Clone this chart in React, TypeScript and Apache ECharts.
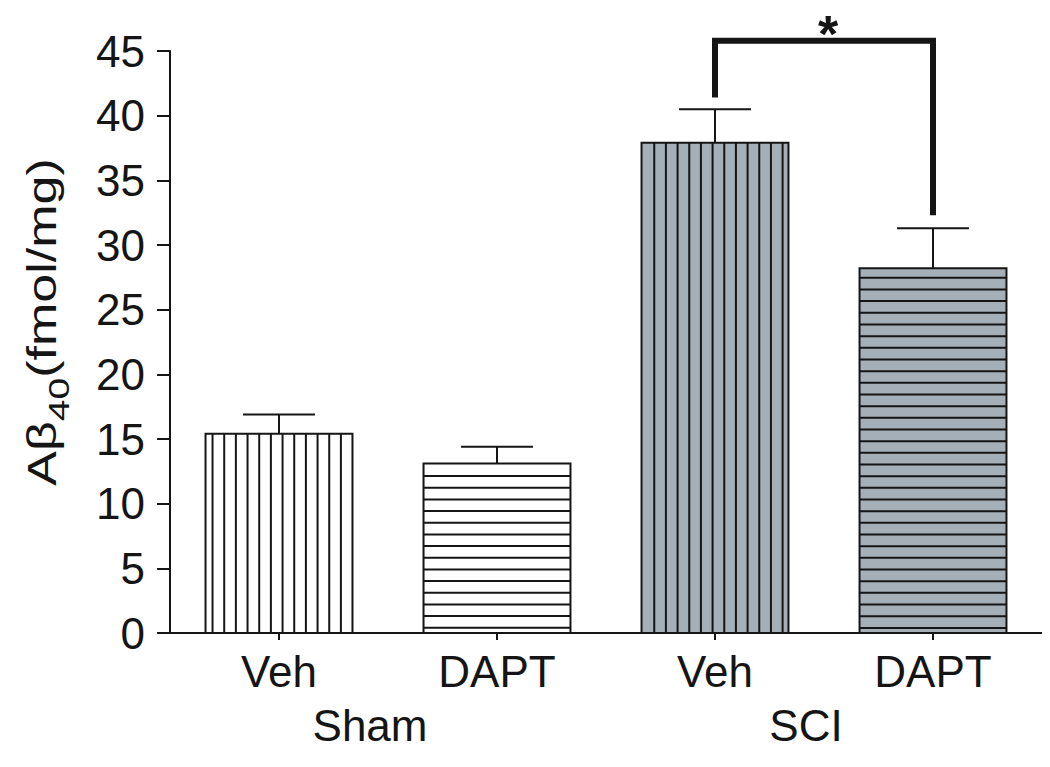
import React, { useEffect, useRef } from 'react';
import * as echarts from 'echarts';

// ---- data ----
const groupLabels = ['Sham', 'SCI'];
const treatmentLabels = ['Veh', 'DAPT', 'Veh', 'DAPT'];
const meanValues = [15.4, 13.1, 37.9, 28.2];
const errorTops = [16.9, 14.4, 40.5, 31.3];
const yMin = 0;
const yMax = 45;
const yStep = 5;
const bracketPair = [2, 3];
const bracketLevel = 45.8;
const bracketLegEnds = [41.4, 32.3];
const significanceMark = '*';

// ---- styles ----
const FONT = 'Liberation Sans, Arial, Helvetica, sans-serif';
const INK = '#151515';
const barFills = ['#ffffff', '#ffffff', '#a4afb8', '#a4afb8'];
const barStripes = ['vertical', 'horizontal', 'vertical', 'horizontal'];
const stripeOffsets = [7, 12.5, 12.7, 9.5];
const STRIPE = 11.67;

function renderBar(params: any, api: any) {
  const i = params.dataIndex;
  const cat = api.value(0);
  const base = api.coord([cat, 0]);
  const top = api.coord([cat, api.value(1)]);
  const bw = api.size([1, 0])[0] * 0.674;
  const x0 = base[0] - bw / 2;
  const x1 = base[0] + bw / 2;
  const y0 = top[1];
  const y1 = base[1];
  const children: any[] = [
    { type: 'rect', shape: { x: x0, y: y0, width: bw, height: y1 - y0 }, style: { fill: barFills[i], stroke: null } },
  ];
  if (barStripes[i] === 'vertical') {
    for (let x = x0 + stripeOffsets[i]; x < x1 - 3; x += STRIPE) {
      children.push({ type: 'line', shape: { x1: x, y1: y0, x2: x, y2: y1 }, style: { stroke: INK, lineWidth: 2 } });
    }
  } else {
    for (let y = y0 + stripeOffsets[i]; y < y1 - 3; y += STRIPE) {
      children.push({ type: 'line', shape: { x1: x0, y1: y, x2: x1, y2: y }, style: { stroke: INK, lineWidth: 2 } });
    }
  }
  children.push({
    type: 'rect',
    shape: { x: x0, y: y0, width: bw, height: y1 - y0 },
    style: { fill: 'none', stroke: INK, lineWidth: 2 },
  });
  return { type: 'group', children };
}

function renderError(params: any, api: any) {
  const cat = api.value(0);
  const p0 = api.coord([cat, api.value(1)]);
  const p1 = api.coord([cat, api.value(2)]);
  const half = api.size([1, 0])[0] * 0.165;
  return {
    type: 'group',
    children: [
      { type: 'line', shape: { x1: p0[0], y1: p0[1], x2: p1[0], y2: p1[1] }, style: { stroke: INK, lineWidth: 2 } },
      { type: 'line', shape: { x1: p1[0] - half, y1: p1[1], x2: p1[0] + half, y2: p1[1] }, style: { stroke: INK, lineWidth: 2 } },
    ],
  };
}

function renderBracket(params: any, api: any) {
  const l = api.coord([bracketPair[0], bracketLegEnds[0]]);
  const r = api.coord([bracketPair[1], bracketLegEnds[1]]);
  const t = api.coord([bracketPair[0], bracketLevel]);
  return {
    type: 'group',
    children: [
      {
        type: 'polyline',
        shape: { points: [[l[0], l[1]], [l[0], t[1]], [r[0], t[1]], [r[0], r[1]]] },
        style: { stroke: INK, lineWidth: 6, fill: 'none', lineJoin: 'miter' },
      },
      {
        type: 'text',
        x: (l[0] + r[0]) / 2 + 4,
        y: t[1] - 7,
        style: {
          text: significanceMark,
          fontSize: 52,
          fontWeight: 'bold',
          fontFamily: FONT,
          fill: INK,
          align: 'center',
          verticalAlign: 'middle',
        },
      },
    ],
  };
}

export default function App() {
  const ref = useRef<HTMLDivElement>(null);
  useEffect(() => {
    if (!ref.current) return;
    const chart = echarts.init(ref.current, undefined, { renderer: 'svg' });
    chart.setOption({
      animation: false,
      backgroundColor: '#ffffff',
      grid: { left: 170, right: 8, top: 51, bottom: 134, containLabel: false },
      xAxis: [
        {
          type: 'category',
          data: treatmentLabels,
          axisLine: { lineStyle: { color: INK, width: 2 } },
          axisTick: { show: true, alignWithLabel: true, length: 7, lineStyle: { color: INK, width: 2 } },
          axisLabel: { color: INK, fontSize: 44, fontFamily: FONT, margin: 16 },
        },
        {
          type: 'category',
          data: groupLabels,
          position: 'bottom',
          offset: 54,
          axisLine: { show: false },
          axisTick: { show: false },
          axisLabel: { color: INK, fontSize: 44, fontFamily: FONT, margin: 16, padding: [0, 36, 0, 0] },
        },
      ],
      yAxis: {
        type: 'value',
        min: yMin,
        max: yMax,
        interval: yStep,
        splitLine: { show: false },
        axisLine: { show: true, lineStyle: { color: INK, width: 2 } },
        axisTick: { show: true, length: 13, lineStyle: { color: INK, width: 2 } },
        axisLabel: { color: INK, fontSize: 44, fontFamily: FONT, margin: 25 },
      },
      graphic: [
        {
          type: 'text',
          x: 42,
          y: 322,
          rotation: Math.PI / 2,
          scaleX: 1.3,
          style: {
            text: '{a|Aβ}{s|40}{a|(fmol/mg)}',
            align: 'center',
            verticalAlign: 'middle',
            fill: INK,
            rich: {
              a: { fontSize: 40, lineHeight: 64, fontFamily: FONT, fill: INK, verticalAlign: 'middle' },
              s: { fontSize: 30, lineHeight: 30, fontFamily: FONT, fill: INK, verticalAlign: 'bottom' },
            },
          },
        },
      ],
      series: [
        {
          type: 'custom',
          xAxisIndex: 0,
          renderItem: renderBar,
          data: meanValues.map((v, i) => [i, v]),
          z: 2,
        },
        {
          type: 'custom',
          xAxisIndex: 0,
          renderItem: renderError,
          data: errorTops.map((v, i) => [i, meanValues[i], v]),
          encode: { x: 0, y: [1, 2] },
          z: 3,
        },
        {
          type: 'custom',
          xAxisIndex: 0,
          renderItem: renderBracket,
          data: [[bracketPair[0], bracketLevel]],
          clip: false,
          z: 4,
        },
      ],
    });
    return () => chart.dispose();
  }, []);
  return <div ref={ref} style={{ width: 1050, height: 767, margin: -8 }} />;
}
